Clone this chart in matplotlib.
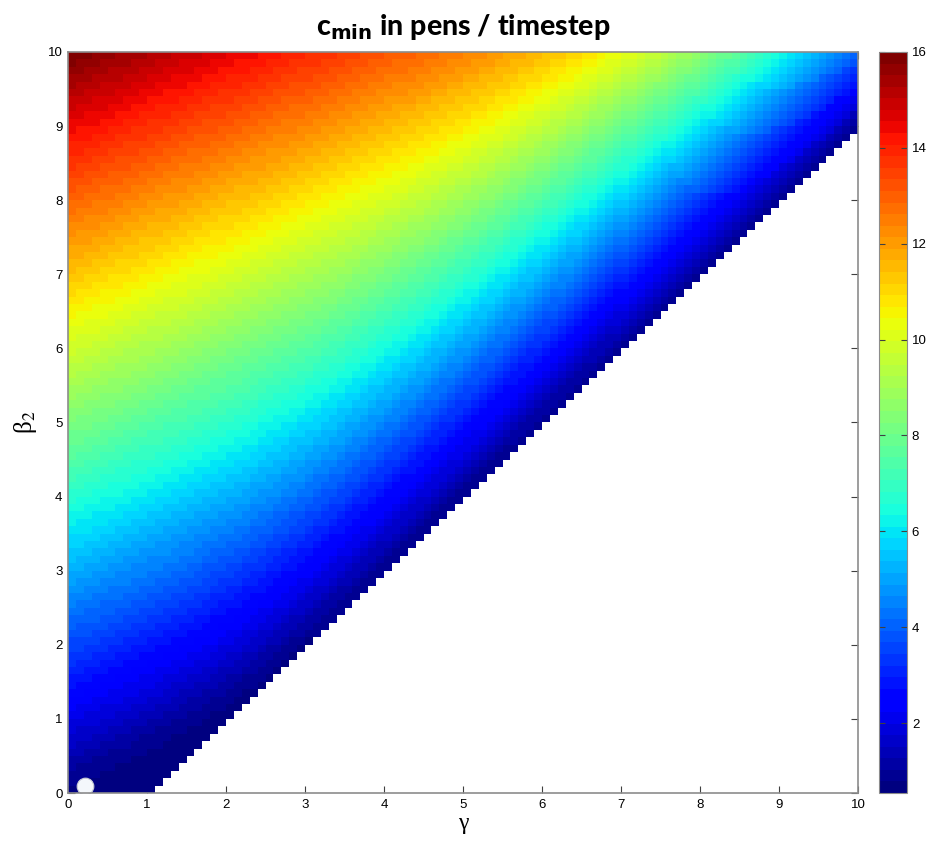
import numpy as np
import matplotlib.pyplot as plt

plt.rcParams['font.family'] = ['Liberation Sans', 'DejaVu Sans']

# cell edges of the grid (0.1 steps)
gamma = np.linspace(0, 10, 101)
beta2 = np.linspace(0, 10, 101)

# values
c_floor = 0.55       # smallest value, along the white edge and at the origin
cut = 1.1            # white (no value) where beta2 < gamma - cut
edge_slope = 1.55    # rise of c_min per unit beta2 along gamma = 0
edge_tilt = 0.45     # slope of the bands near the left edge
corner_slope = 3.15  # rise of c_min per unit distance from the white edge at gamma = 10
c_range = (0.54, 16)
cbar_ticks = [2, 4, 6, 8, 10, 12, 14, 16]
dot = (0.21, 0.09)

gc = (gamma[:-1] + gamma[1:]) / 2
bc = (beta2[:-1] + beta2[1:]) / 2
G, B = np.meshgrid(gc, bc)
u = B - G + cut                          # distance above the white edge
gp = 10 * corner_slope / (corner_slope - edge_slope)
t1 = edge_slope * gp * u / (gp - G)      # bands along the white edge
t2 = edge_slope * (B - edge_tilt * G)    # bands near the left edge
s = 0.5
low = -s * np.logaddexp(-t1 / s, -t2 / s)
c = c_floor + 0.25 * np.logaddexp(0, low / 0.25)
c = np.ma.masked_where(np.round(u * 10) <= 0, c)

fig = plt.figure(figsize=(9.31, 8.42), dpi=100)
ax = fig.add_axes([68/931, 49/842, 790/931, 741/842])
mesh = ax.pcolormesh(gamma, beta2, c, cmap=plt.get_cmap('jet', 64),
                     vmin=c_range[0], vmax=c_range[1], shading='flat')
ax.plot(*dot, 'o', ms=12, mfc='#f4f7fb', mec='#c8ccd6', mew=0.8)

ax.set_xlim(0, 10)
ax.set_ylim(0, 10)
ax.set_xticks(range(11))
ax.set_yticks(range(11))
ax.set_axisbelow(True)
ax.tick_params(direction='in', top=True, right=True, length=5,
               color='#404040', labelsize=9.5, pad=4)
for sp in ax.spines.values():
    sp.set_color('#8c8c8c')
    sp.set_linewidth(1.2)

ax.set_xlabel('γ', fontsize=17, family=['Liberation Serif'], labelpad=2)
ax.set_ylabel('β$_2$', fontsize=18, family=['Liberation Serif'],
              math_fontfamily='stix', labelpad=6)
ax.set_title(r'c$_{\mathbf{min}}$ in pens / timestep', fontsize=20.5,
             fontweight='black', family=['Lato', 'DejaVu Sans'], pad=12)

cax = fig.add_axes([879/931, 49/842, 28/931, 741/842])
cb = fig.colorbar(mesh, cax=cax, ticks=cbar_ticks)
cb.outline.set_edgecolor('#8c8c8c')
cax.tick_params(direction='in', left=True, right=True, length=4,
                color='#404040', labelsize=9.5)

fig.savefig('out.png', dpi=100)
